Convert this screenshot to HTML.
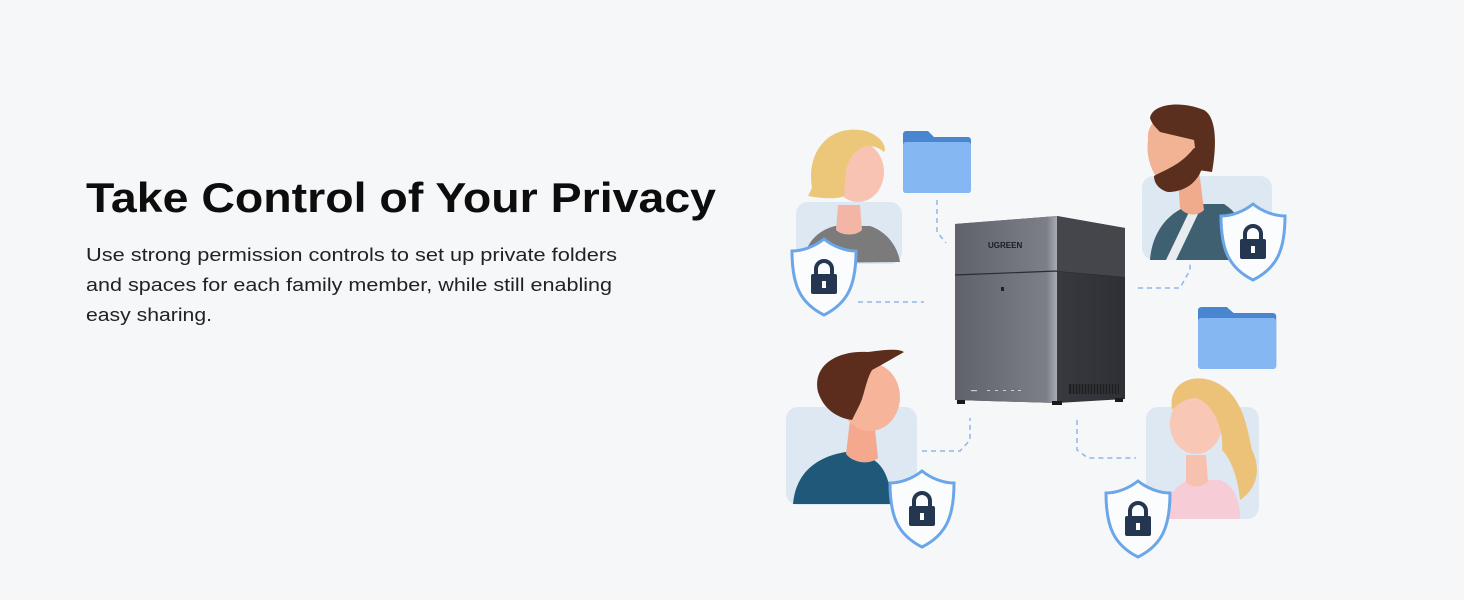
<!DOCTYPE html>
<html><head><meta charset="utf-8"><style>
html,body{margin:0;padding:0;background:#f6f7f9;}
svg{display:block}
</style></head><body>
<svg width="1464" height="600" viewBox="0 0 1464 600" xmlns="http://www.w3.org/2000/svg" font-family="Liberation Sans, Arial, sans-serif">
<rect width="1464" height="600" fill="#f6f7f9"/>
<text x="86" y="212" font-size="42" font-weight="bold" fill="#0d0d0d" textLength="630" lengthAdjust="spacingAndGlyphs">Take Control of Your Privacy</text>
<g font-size="18.5" fill="#222">
<text x="86" y="261" textLength="531" lengthAdjust="spacingAndGlyphs">Use strong permission controls to set up private folders</text>
<text x="86" y="291" textLength="526" lengthAdjust="spacingAndGlyphs">and spaces for each family member, while still enabling</text>
<text x="86" y="321" textLength="126" lengthAdjust="spacingAndGlyphs">easy sharing.</text>
</g>

<defs>
<g id="shield">
<path d="M32,2 C42,10 54,14 64,14 C64,48 56,66 32,78 C8,66 0,48 0,14 C10,14 22,10 32,2 Z" fill="#fbfcfd" stroke="#6aa6e8" stroke-width="3"/>
<path d="M24,38 v-6 a8,8 0 0 1 16,0 v6" fill="none" stroke="#243650" stroke-width="4"/>
<rect x="19" y="37" width="26" height="20" rx="2" fill="#243650"/>
<rect x="30" y="44" width="4" height="7" fill="#fff"/>
</g>
<g id="folder">
<path d="M0,4 a3,3 0 0 1 3,-3 h22 l6,6 h34 a3,3 0 0 1 3,3 v50 a3,3 0 0 1 -3,3 h-62 a3,3 0 0 1 -3,-3 Z" fill="#4a86cf"/>
<rect x="0" y="12" width="68" height="51" rx="3" fill="#85b8f2"/>
</g>
<linearGradient id="lf" x1="0" x2="1"><stop offset="0" stop-color="#5f626a"/><stop offset="0.9" stop-color="#7c7f88"/><stop offset="1" stop-color="#a9acb4"/></linearGradient>
<linearGradient id="rf" x1="0" x2="1"><stop offset="0" stop-color="#45474d"/><stop offset="1" stop-color="#2f3035"/></linearGradient>
</defs>

<!-- dashed connectors -->
<g fill="none" stroke="#8fb7e6" stroke-width="1.5" stroke-dasharray="5,4">
<path d="M937,200 V232 L946,243"/>
<path d="M858,302 H924"/>
<path d="M1138,288 H1180 L1190,270 V262"/>
<path d="M922,451 H960 L970,440 V418"/>
<path d="M1077,420 V450 L1088,458 H1136"/>
</g>

<!-- panels -->
<rect x="796" y="202" width="106" height="62" rx="12" fill="#dde8f2"/>
<rect x="1142" y="176" width="130" height="84" rx="12" fill="#dde8f2"/>
<rect x="786" y="407" width="131" height="98" rx="12" fill="#dde8f2"/>
<rect x="1146" y="407" width="113" height="112" rx="12" fill="#dde8f2"/>

<!-- woman 1 -->
<path d="M803,263 C806,240 820,230 835,226 L870,226 C888,232 898,248 900,262 Z" fill="#7b7b7b"/>
<path d="M838,205 L860,205 L862,230 C856,236 842,236 836,230 Z" fill="#f3b6a6"/>
<ellipse cx="858" cy="172" rx="26" ry="30" fill="#f8c3b2"/>
<path d="M812,188 C806,150 830,126 860,130 C878,132 888,146 884,152 C870,140 852,146 846,170 L844,196 C836,200 820,198 808,196 Z" fill="#edc779"/>

<!-- man beard -->
<path d="M1150,260 C1152,232 1168,212 1192,204 L1224,204 C1240,214 1248,232 1250,260 Z" fill="#3f6070"/>
<path d="M1166,260 L1190,210 L1198,214 L1176,260 Z" fill="#e8ecef"/>
<path d="M1178,178 L1200,178 L1204,210 C1196,218 1184,214 1180,208 Z" fill="#f0ab8c"/>
<path d="M1148,140 C1146,118 1168,110 1196,114 L1200,180 L1160,182 C1150,170 1146,155 1148,140 Z" fill="#f2b395"/>
<path d="M1150,118 C1152,104 1180,100 1204,110 C1218,118 1216,150 1212,172 L1198,170 L1194,140 L1160,132 C1156,128 1152,124 1150,118 Z" fill="#5a2f1d"/>
<path d="M1154,176 C1164,170 1180,166 1194,148 L1204,150 C1206,178 1188,192 1168,192 C1160,190 1154,184 1154,176 Z" fill="#5a2f1d"/>

<!-- man 2 -->
<path d="M793,504 C796,470 820,456 846,452 L870,458 C884,464 890,480 892,504 Z" fill="#1f5878"/>
<path d="M850,420 L874,420 L878,458 C868,466 852,462 846,454 Z" fill="#f4a98e"/>
<ellipse cx="870" cy="397" rx="30" ry="34" fill="#f6b59b"/>
<path d="M818,392 C812,366 836,350 868,352 C884,350 898,348 904,352 C890,360 880,366 872,370 C866,380 864,396 860,404 L852,420 C838,418 824,410 818,392 Z" fill="#5c2d1c"/>

<!-- woman 2 -->
<path d="M1165,519 C1166,496 1176,484 1190,480 L1220,480 C1236,486 1240,504 1240,519 Z" fill="#f6cdd6"/>
<path d="M1186,455 L1206,455 L1208,482 C1200,488 1192,488 1186,482 Z" fill="#f6c2af"/>
<ellipse cx="1196" cy="424" rx="26" ry="30" fill="#f8c7b6"/>
<path d="M1172,410 C1168,384 1190,374 1210,380 C1240,390 1246,420 1252,450 C1262,470 1256,490 1240,500 C1238,480 1232,460 1222,450 C1224,430 1214,404 1196,398 C1186,398 1178,404 1172,410 Z" fill="#ecc278"/>

<!-- folders -->
<use href="#folder" x="903" y="130"/>
<g transform="translate(1198,306) scale(1.15,1)"><use href="#folder"/></g>

<!-- NAS -->
<path d="M955,224 L1057,216 L1125,228 L1125,399 L1057,403 L955,400 Z" fill="url(#rf)"/>
<path d="M955,224 L1057,216 L1057,403 L955,400 Z" fill="url(#lf)"/>
<path d="M955,275 L1057,271 L1125,277" fill="none" stroke="#2a2b30" stroke-width="1.2"/>
<path d="M1057,216 L1125,228 L1125,277 L1057,271 Z" fill="#45464c"/>
<text x="988" y="248" font-size="8" font-weight="bold" fill="#1b1c20">UGREEN</text>
<rect x="1001" y="287" width="3" height="4" fill="#222"/>
<g fill="#ccc"><rect x="971" y="390" width="6" height="1.2"/><rect x="987" y="390" width="3" height="1"/><rect x="995" y="390" width="3" height="1"/><rect x="1003" y="390" width="3" height="1"/><rect x="1011" y="390" width="3" height="1"/><rect x="1018" y="390" width="3" height="1"/></g>
<rect x="1069" y="384" width="50" height="10" fill="#1e1f22"/>
<g stroke="#555" stroke-width="0.6"><path d="M1072,384v10M1075,384v10M1078,384v10M1081,384v10M1084,384v10M1087,384v10M1090,384v10M1093,384v10M1096,384v10M1099,384v10M1102,384v10M1105,384v10M1108,384v10M1111,384v10M1114,384v10M1117,384v10"/></g>
<rect x="957" y="400" width="8" height="4" fill="#1a1a1a"/><rect x="1052" y="401" width="10" height="4" fill="#1a1a1a"/><rect x="1115" y="398" width="8" height="4" fill="#1a1a1a"/>

<!-- shields -->
<use href="#shield" x="792" y="237"/>
<use href="#shield" x="1221" y="202"/>
<use href="#shield" x="890" y="469"/>
<use href="#shield" x="1106" y="479"/>
</svg>
</body></html>
